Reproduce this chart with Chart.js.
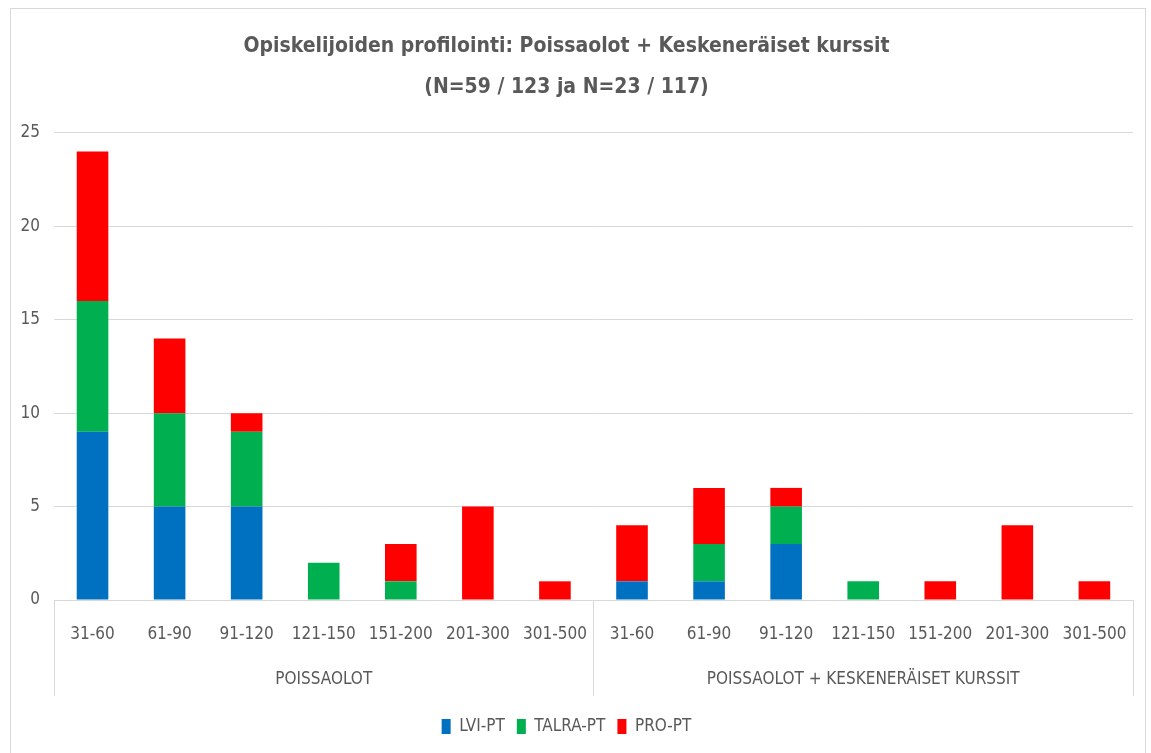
<!DOCTYPE html>
<html>
<head>
<meta charset="utf-8">
<script src="https://cdn.jsdelivr.net/npm/chart.js@4/dist/chart.umd.min.js"></script>
<style>
html,body{margin:0;padding:0;background:#fff;}
#wrap{position:relative;width:1151px;height:753px;}
</style>
</head>
<body>
<div id="wrap"><canvas id="c" width="1151" height="753"></canvas></div>
<script>
const titleLines = ['Opiskelijoiden profilointi: Poissaolot + Keskeneräiset kurssit', '(N=59 / 123 ja N=23 / 117)'];
const categories = ['31-60','61-90','91-120','121-150','151-200','201-300','301-500'];
const groups = ['POISSAOLOT','POISSAOLOT + KESKENERÄISET KURSSIT'];
const seriesNames = ['LVI-PT','TALRA-PT','PRO-PT'];
const lviValues   = [9,5,5,0,0,0,0, 1,1,3,0,0,0,0];
const talraValues = [7,5,4,2,1,0,0, 0,2,2,1,0,0,0];
const proValues   = [8,4,1,0,2,5,1, 3,3,1,0,1,4,1];
const yTicks = [0,5,10,15,20,25];

const FONT = "'DejaVu Sans Condensed', 'Liberation Sans Narrow', sans-serif";
const TXT = '#595959';
const GRID = '#d9d9d9';

const labels = [];
groups.forEach(() => categories.forEach(c => labels.push(c)));

const groupPlugin = {
  id: 'groupAxis',
  beforeDraw(chart) {
    const ctx = chart.ctx;
    ctx.save();
    ctx.strokeStyle = GRID;
    ctx.lineWidth = 1;
    ctx.strokeRect(10.5, 8.5, 1135, 760);
    ctx.restore();
  },
  afterDraw(chart) {
    const ctx = chart.ctx;
    const xs = chart.scales.x;
    const area = chart.chartArea;
    const n = categories.length;
    const half = (xs.getPixelForValue(1) - xs.getPixelForValue(0)) / 2;
    ctx.save();
    ctx.strokeStyle = GRID;
    ctx.lineWidth = 1;
    ctx.fillStyle = TXT;
    ctx.font = '17px ' + FONT;
    ctx.textAlign = 'center';
    ctx.textBaseline = 'middle';
    groups.forEach((g, gi) => {
      const x0 = xs.getPixelForValue(gi * n) - half;
      const x1 = xs.getPixelForValue(gi * n + n - 1) + half;
      [x0, x1].forEach(x => {
        const px = Math.round(x) + 0.5;
        ctx.beginPath();
        ctx.moveTo(px, area.bottom);
        ctx.lineTo(px, area.bottom + 96);
        ctx.stroke();
      });
      ctx.fillText(g, (x0 + x1) / 2, area.bottom + 80);
    });
    ctx.restore();
  }
};

new Chart(document.getElementById('c'), {
  type: 'bar',
  data: {
    labels: labels,
    datasets: [
      { label: seriesNames[0], data: lviValues, backgroundColor: '#0070C0' },
      { label: seriesNames[1], data: talraValues, backgroundColor: '#00B050' },
      { label: seriesNames[2], data: proValues, backgroundColor: '#FF0000' }
    ]
  },
  options: {
    responsive: false,
    animation: false,
    maintainAspectRatio: false,
    layout: { padding: { left: 0, right: 18, top: 0, bottom: 8 } },
    datasets: { bar: { categoryPercentage: 1, barPercentage: 0.41, borderWidth: 0 } },
    plugins: {
      title: {
        display: true,
        text: titleLines,
        color: TXT,
        font: { family: FONT, size: 21, weight: 'bold', lineHeight: 1.95 },
        padding: { top: 26, bottom: 25 }
      },
      legend: {
        position: 'bottom',
        labels: {
          color: TXT,
          font: { family: FONT, size: 17 },
          boxWidth: 9,
          boxHeight: 15,
          padding: 12
        }
      },
      tooltip: { enabled: false }
    },
    scales: {
      x: {
        stacked: true,
        grid: { display: false, drawTicks: false },
        border: { display: true, color: GRID },
        ticks: { color: TXT, font: { family: FONT, size: 17 }, padding: 24, maxRotation: 0, autoSkip: false },
        afterFit(scale) { scale.height = 106; }
      },
      y: {
        stacked: true,
        min: 0, max: 25,
        afterBuildTicks(scale) { scale.ticks = yTicks.map(v => ({ value: v })); },
        grid: { color: GRID, drawTicks: false },
        border: { display: false },
        ticks: { color: TXT, font: { family: FONT, size: 17 }, padding: 14 },
        afterFit(scale) { scale.width = 54; }
      }
    }
  },
  plugins: [groupPlugin]
});
</script>
</body>
</html>
